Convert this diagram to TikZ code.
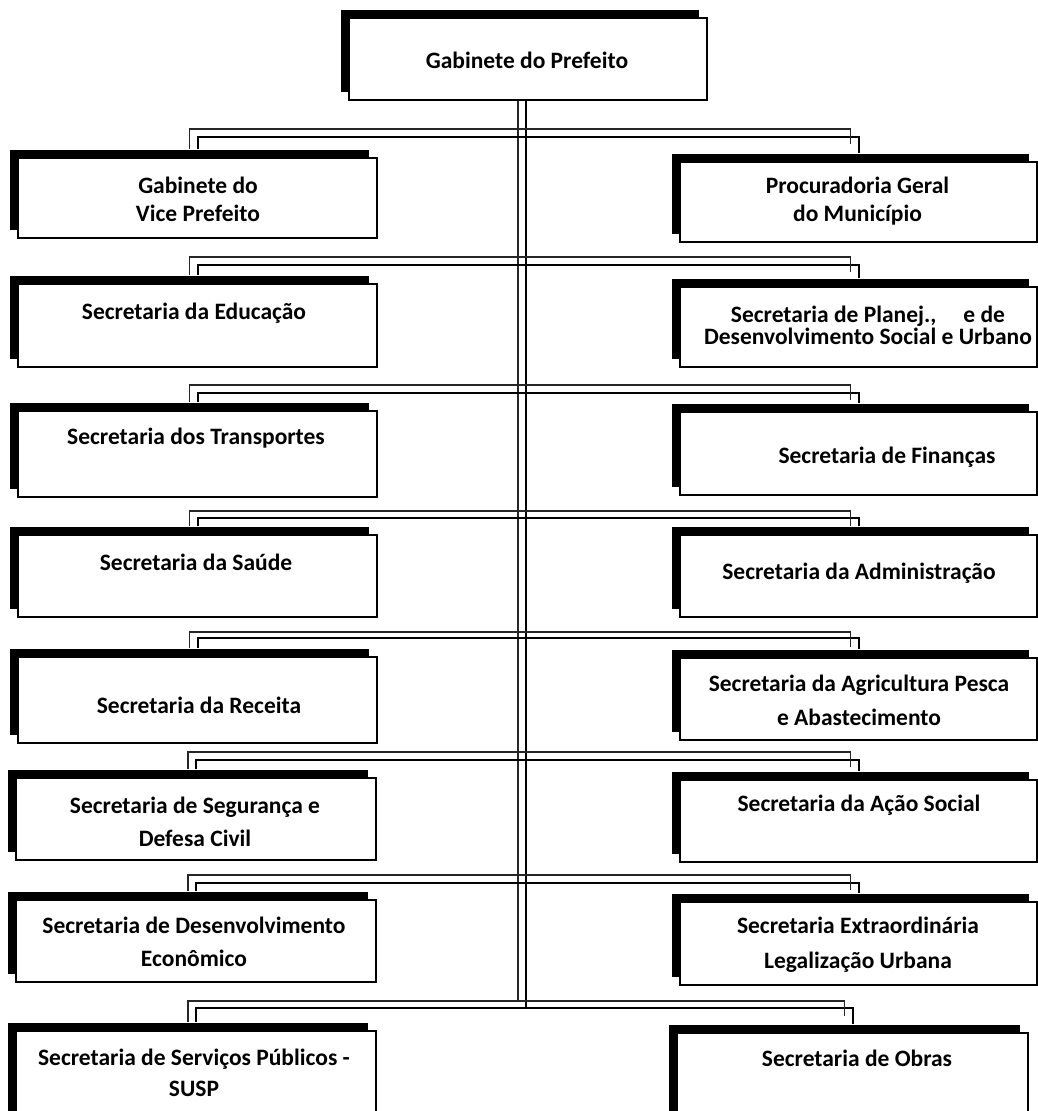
\documentclass[tikz,border=0pt]{standalone}
\usepackage{fontspec}
\setmainfont{Carlito}
\usetikzlibrary{shadows,calc}
\begin{document}
\begin{tikzpicture}[x=1pt,y=-1pt,
  box/.style={draw, line width=1.8pt, fill=white, inner sep=0pt,
    general shadow={fill=black, shadow xshift=-8pt, shadow yshift=8pt}},
  lbl/.style={align=center, font=\fontsize{23.5}{32}\selectfont\bfseries, inner sep=0pt},
  lnA/.style={line width=1.3pt, black!85},
  lnB/.style={line width=2pt, black}]
\clip (0,0) rectangle (1038,1111);
\fill[white] (0,0) rectangle (1038,1111);
% boxes
\node[box, minimum width=358pt, minimum height=82pt] (T) at (528,59) {};
\node[box, minimum width=359pt, minimum height=80pt] (L1) at (197.5,198) {};
\node[box, minimum width=357pt, minimum height=80pt] (R1) at (858.5,202) {};
\node[box, minimum width=359pt, minimum height=83pt] (L2) at (197.5,325.5) {};
\node[box, minimum width=357pt, minimum height=80pt] (R2) at (858.5,327) {};
\node[box, minimum width=359pt, minimum height=86pt] (L3) at (197.5,454) {};
\node[box, minimum width=357pt, minimum height=83pt] (R3) at (858.5,453.5) {};
\node[box, minimum width=359pt, minimum height=82pt] (L4) at (197.5,576) {};
\node[box, minimum width=357pt, minimum height=82pt] (R4) at (858.5,576) {};
\node[box, minimum width=359pt, minimum height=86pt] (L5) at (197.5,700) {};
\node[box, minimum width=357pt, minimum height=82pt] (R5) at (858.5,699) {};
\node[box, minimum width=360pt, minimum height=82pt] (L6) at (196,819) {};
\node[box, minimum width=357pt, minimum height=82pt] (R6) at (858.5,821) {};
\node[box, minimum width=360pt, minimum height=82pt] (L7) at (196,941) {};
\node[box, minimum width=357pt, minimum height=83pt] (R7) at (858.5,943.5) {};
\node[box, minimum width=360pt, minimum height=100pt] (L8) at (196,1081) {};
\node[box, minimum width=351pt, minimum height=100pt] (R8) at (852.5,1083) {};
% labels
\node[lbl] (Tt) at (527,60) {Gabinete do Prefeito};
\node[lbl, font=\fontsize{23.5}{28}\selectfont\bfseries] (L1t) at (198,199) {Gabinete do\\Vice Prefeito};
\node[lbl, font=\fontsize{23.5}{28}\selectfont\bfseries] (R1t) at (857.5,201) {Procuradoria Geral\\do Município};
\node[lbl] (L2t) at (194,313) {Secretaria da Educação};
\node[lbl, font=\fontsize{23.5}{15}\selectfont\bfseries] (R2t) at (868,325.5) {Secretaria de Planej.,\hspace{27pt}e de\\Desenvolvimento Social e Urbano};
\node[lbl] (L3t) at (196,438) {Secretaria dos Transportes};
\node[lbl] (R3t) at (887,457) {Secretaria de Finanças};
\node[lbl] (L4t) at (196,562) {Secretaria da Saúde};
\node[lbl] (R4t) at (859,573) {Secretaria da Administração};
\node[lbl] (L5t) at (199,705) {Secretaria da Receita};
\node[lbl, font=\fontsize{23.5}{34}\selectfont\bfseries] (R5t) at (859,700) {Secretaria da Agricultura Pesca\\e Abastecimento};
\node[lbl, font=\fontsize{23.5}{33}\selectfont\bfseries] (L6t) at (195,821.5) {Secretaria de Segurança e\\Defesa Civil};
\node[lbl] (R6t) at (859,805) {Secretaria da Ação Social};
\node[lbl, font=\fontsize{23.5}{33}\selectfont\bfseries] (L7t) at (194,941.5) {Secretaria de Desenvolvimento\\Econômico};
\node[lbl, font=\fontsize{23.5}{35}\selectfont\bfseries] (R7t) at (858,944.5) {Secretaria Extraordinária\\Legalização Urbana};
\node[lbl, font=\fontsize{23.5}{31}\selectfont\bfseries] (L8t) at (194,1072.5) {Secretaria de Serviços Públicos -\\SUSP};
\node[lbl] (R8t) at (857,1058) {Secretaria de Obras};
% trunk
\coordinate (trB) at (526,1008);
\coordinate (trA) at (518,1001);
\draw[lnB] ([xshift=-2pt]T.south) -- (trB);
\draw[lnA] ([xshift=-10pt]T.south) -- (trA);
% branches
\foreach \i/\ya/\yb in {1/129/137, 2/257/265, 3/385/393, 4/511/518, 5/632/638, 6/752/760, 7/875/883, 8/1001/1008}{
  \draw[lnB] ([yshift=8pt]L\i.north) |- (R\i.north |- 0,\yb) -- ([yshift=8pt]R\i.north);
  \draw[lnA] ([xshift=-8pt,yshift=8pt]L\i.north) |- ($(R\i.north |- 0,\ya)+(-8,0)$) -- ++(0,15);
}
\end{tikzpicture}
\end{document}
